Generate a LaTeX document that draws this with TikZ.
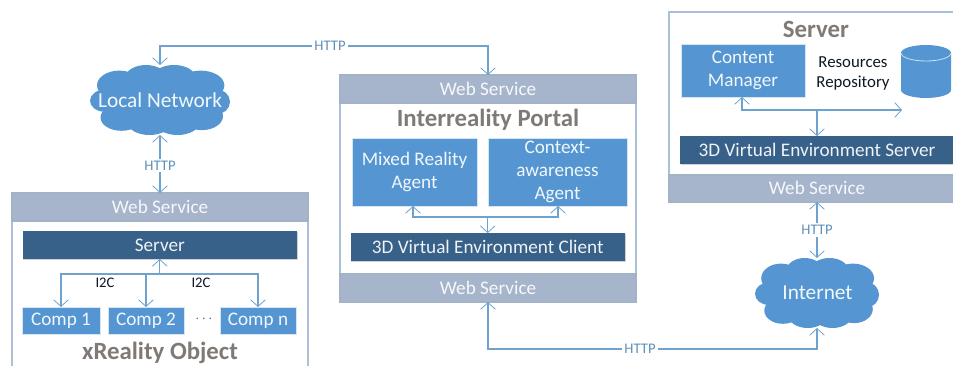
\documentclass[tikz,border=0pt]{standalone}
\usepackage{fontspec}
\setmainfont{Carlito}
\usetikzlibrary{arrows.meta,shadows,calc}
\definecolor{lineblue}{HTML}{6FA3CF}
\definecolor{agentblue}{HTML}{5596D2}
\definecolor{darkblue}{HTML}{376188}
\definecolor{headgray}{HTML}{A6B5CC}
\definecolor{frameblue}{HTML}{A9C0D6}
\definecolor{titlegray}{HTML}{7F7A76}
\definecolor{lbltext}{HTML}{5F8FB8}
\newcommand{\bx}[7]{%
  \pgfmathsetmacro{\bw}{(#4-#2)*0.75}%
  \pgfmathsetmacro{\bh}{(#5-#3)*0.75}%
  \node[#6,minimum width=\bw pt,minimum height=\bh pt] (#1) at ({(#2+#4)/2},{(#3+#5)/2}) {#7};}
\newcommand{\cloudfill}[4]{%
  \begin{scope}[shift={(#1,#2)},xscale=#3,yscale=#4,fill=agentblue]
    \fill (0,0) ellipse [x radius=.78,y radius=.72];
    \foreach \a/\b/\r/\s in {-.58/-.42/.32/.42, -.2/-.62/.3/.38, .2/-.66/.3/.34, .58/-.42/.34/.42,
      -.78/.02/.22/.32, .8/.05/.2/.36, -.55/.5/.3/.38, -.15/.62/.32/.38, .25/.62/.32/.38, .6/.46/.3/.4}
      \fill (\a,\b) ellipse [x radius=\r,y radius=\s];
  \end{scope}}
\tikzset{
  base/.style={inner sep=0pt,outer sep=0pt,align=center,font=\fontsize{14.4}{17.2}\selectfont},
  agent/.style={base,fill=agentblue,text=white!92!agentblue,draw=white!75!agentblue,line width=.5pt,
    general shadow={shadow xshift=.7pt,shadow yshift=-.9pt,fill=black,opacity=.18}},
  darkbar/.style={base,fill=darkblue,text=white!92!darkblue,
    general shadow={shadow xshift=.7pt,shadow yshift=-.9pt,fill=black,opacity=.18}},
  head/.style={base,fill=headgray,text=white!90!headgray,draw=frameblue!80!gray,line width=.8pt},
  frame/.style={base,fill=white,draw=frameblue,line width=1pt},
  title/.style={inner sep=0pt,font=\fontsize{18.6}{20}\selectfont\bfseries,text=titlegray},
  cloudlbl/.style={base,text=white!92!agentblue,font=\fontsize{16}{18}\selectfont},
  link/.style={draw=lineblue,line width=.8pt},
  both/.style={link,{Straight Barb[length=5pt,width=11pt,line width=.6pt]}-{Straight Barb[length=5pt,width=11pt,line width=.6pt]}},
  single/.style={link,-{Straight Barb[length=5pt,width=11pt,line width=.6pt]}},
  http/.style={inner sep=1.5pt,fill=white,text=lbltext,font=\fontsize{11}{12}\selectfont},
  plain/.style={inner sep=0pt,text=black!75!darkblue,align=center,font=\fontsize{12.6}{15}\selectfont},
}
\begin{document}
\begin{tikzpicture}[x=0.75pt,y=-0.75pt]
\clip (0,0) rectangle (953,365);
% clouds
\cloudfill{160}{100}{70}{35}
\cloudfill{817}{293}{62}{35}
\bx{lnet}{90}{65}{230}{135}{cloudlbl}{Local Network}
\bx{inet}{755}{258}{880}{328}{cloudlbl}{Internet}
% xReality Object
\bx{xframe}{12}{193}{308}{400}{frame}{}
\bx{xhead}{12}{193}{308}{221}{head}{Web Service}
\bx{xserver}{22.5}{231}{297}{259}{darkbar}{Server}
\bx{comp1}{22}{307}{100}{334}{agent}{Comp 1}
\bx{comp2}{108}{307}{184}{334}{agent}{Comp 2}
\bx{compn}{220}{307}{296}{334}{agent}{Comp n}
\node[plain,font=\fontsize{11}{12}\selectfont] (i2ca) at (105,283) {I2C};
\node[plain,font=\fontsize{11}{12}\selectfont] (i2cb) at (201,283) {I2C};
\node[plain,text=darkblue,font=\fontsize{11}{12}\selectfont] (dots) at (204,319) {$\cdots$};
\node[title] (xtitle) at (160,353) {xReality Object};
% Portal
\bx{pframe}{340}{75}{636}{302}{frame}{}
\bx{phead}{340}{75}{636}{103}{head}{Web Service}
\bx{pfoot}{340}{274}{636}{302}{head}{Web Service}
\node[title] (ptitle) at (488,120) {Interreality Portal};
\bx{mra}{352}{138}{477}{206}{agent}{Mixed Reality\\Agent}
\bx{caa}{488}{138}{627}{206}{agent}{Context-\\awareness\\Agent}
\bx{client}{350.5}{233}{625}{261}{darkbar}{3D Virtual Environment Client}
% Server
\bx{sframe}{669}{12}{1000}{202}{frame}{}
\bx{sfoot}{669}{175}{1000}{202}{head}{}
\node[base,text=white!90!headgray] (sweb) at (817,188) {Web Service};
\node[title] (stitle) at (816,29) {Server};
\bx{cm}{681}{44}{805}{97}{agent}{Content\\Manager}
\node[plain] (repo) at (853,73) {Resources\\Repository};
\bx{vserver}{680}{136}{1000}{164}{darkbar}{}
\node[base,text=white!92!darkblue] (vslbl) at (817,150) {3D Virtual Environment Server};
% cylinder
\fill[agentblue] (901,53) -- (901,90) arc[start angle=180,end angle=0,x radius=25,y radius=8] -- (951,53) arc[start angle=0,end angle=-180,x radius=25,y radius=8];
\draw[white!70!agentblue,line width=.6pt] (901,53) arc[start angle=180,end angle=0,x radius=25,y radius=8];
% connectors
\coordinate (topbend) at (330,46);
\draw[both] (lnet.north) |- (topbend) node[http] (h1) {HTTP} -| (phead.north);
\draw[both] (lnet.south) -- (xhead.north) node[midway,http,yshift=-1pt] (h2) {HTTP};
\coordinate (xjun) at (xserver.south |- 0,274);
\draw[single] (xjun) -- (xserver.south);
\draw[single] (xjun) -| (comp1.north);
\draw[single] (xjun) -| (compn.north);
\draw[single] (xjun -| comp2.north) -- (comp2.north);
\coordinate (pjun) at (client.north |- 0,217);
\draw[single] (pjun) -- (client.north);
\coordinate (mratip) at (413,206);
\coordinate (caatip) at (558,206);
\draw[both] (mratip) |- (pjun) -| (caatip);
\coordinate (sjun) at (817,110);
\coordinate (cmtip) at (742,97);
\coordinate (cyltip) at (902,110);
\draw[both] (cmtip) |- (sjun) -- (cyltip);
\coordinate (vtop) at (817,136);
\draw[single] (sjun) -- (vtop);
\coordinate (sbot) at (817,202);
\coordinate (itop) at (817,258);
\draw[both] (sbot) -- (itop) node[midway,http] (h3) {HTTP};
\coordinate (ibot) at (817,328);
\coordinate (lowbend) at (640,349);
\draw[both] (pfoot.south) |- (lowbend) node[http] (h4) {HTTP} -| (ibot);
\end{tikzpicture}
\end{document}
